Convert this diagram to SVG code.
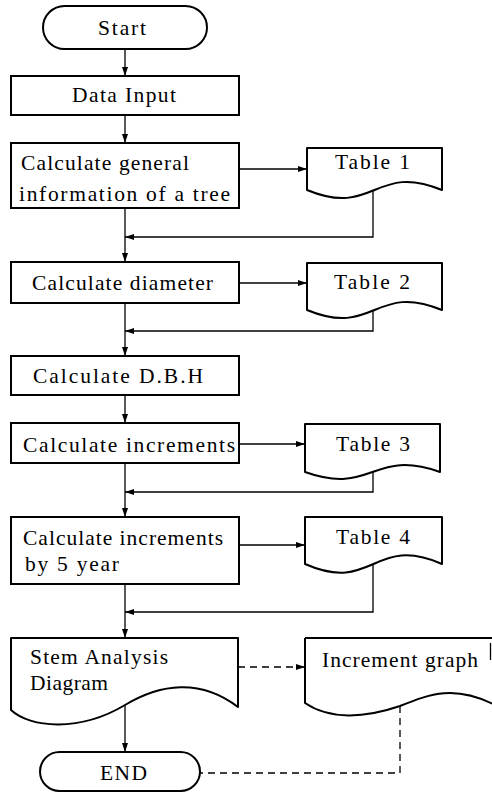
<svg xmlns="http://www.w3.org/2000/svg" width="492" height="793" viewBox="0 0 492 793">
<style>
.box{fill:#fff;stroke:#000;stroke-width:2}
.doc{fill:#fff;stroke:#000;stroke-width:2;stroke-linejoin:round}
.ln{fill:none;stroke:#000;stroke-width:1.3}
.dash{fill:none;stroke:#000;stroke-width:1.3;stroke-dasharray:7 5}
text{font-family:"Liberation Serif","Times New Roman",serif;font-size:21.5px;fill:#000}
</style>
<defs>
<marker id="ah" markerWidth="10" markerHeight="8" refX="9" refY="4" orient="auto" markerUnits="userSpaceOnUse">
<path d="M0,1 L9,4 L0,7 Z" fill="#000"/>
</marker>
</defs>
<rect width="492" height="793" fill="#fff"/>
<g id="connectors">
<line class="ln" x1="125" y1="50" x2="125" y2="76" marker-end="url(#ah)"/>
<line class="ln" x1="125" y1="115" x2="125" y2="143" marker-end="url(#ah)"/>
<line class="ln" x1="125" y1="208" x2="125" y2="262" marker-end="url(#ah)"/>
<line class="ln" x1="125" y1="303" x2="125" y2="356" marker-end="url(#ah)"/>
<line class="ln" x1="125" y1="395" x2="125" y2="423" marker-end="url(#ah)"/>
<line class="ln" x1="125" y1="463" x2="125" y2="517" marker-end="url(#ah)"/>
<line class="ln" x1="125" y1="584" x2="125" y2="638" marker-end="url(#ah)"/>
<line class="ln" x1="125" y1="705" x2="125" y2="752" marker-end="url(#ah)"/>
<line class="ln" x1="239" y1="169" x2="307" y2="169" marker-end="url(#ah)"/>
<line class="ln" x1="239" y1="283" x2="307" y2="283" marker-end="url(#ah)"/>
<line class="ln" x1="239" y1="444" x2="305" y2="444" marker-end="url(#ah)"/>
<line class="ln" x1="239" y1="545" x2="305" y2="545" marker-end="url(#ah)"/>
<line class="dash" x1="238" y1="667" x2="305" y2="667" marker-end="url(#ah)"/>
<polyline class="ln" points="373,190 373,237 125,237" marker-end="url(#ah)"/>
<polyline class="ln" points="373,310 373,331 125,331" marker-end="url(#ah)"/>
<polyline class="ln" points="373,472 373,492 125,492" marker-end="url(#ah)"/>
<polyline class="ln" points="373,564 373,612 125,612" marker-end="url(#ah)"/>
<polyline class="dash" points="400,706 400,773 200,773"/>
</g>
<g id="start">
<rect class="box" x="43" y="6" width="164" height="43" rx="21.5"/>
<text x="98" y="35" textLength="48" lengthAdjust="spacing">Start</text>
</g>
<g id="data-input">
<rect class="box" x="11" y="76" width="228" height="39"/>
<text x="72" y="102" textLength="104" lengthAdjust="spacing">Data Input</text>
</g>
<g id="calc-general">
<rect class="box" x="11" y="143" width="228" height="65"/>
<text x="21" y="170" textLength="168" lengthAdjust="spacing">Calculate general</text>
<text x="19" y="201" textLength="211" lengthAdjust="spacing">information of a tree</text>
</g>
<g id="table1">
<path class="doc" d="M307,148 H442 V190 C374.5,162 374.5,218 307,190 Z"/>
<text x="335" y="169" textLength="75" lengthAdjust="spacing">Table 1</text>
</g>
<g id="calc-diameter">
<rect class="box" x="11" y="262" width="228" height="41"/>
<text x="32" y="290" textLength="181" lengthAdjust="spacing">Calculate diameter</text>
</g>
<g id="table2">
<path class="doc" d="M307,263 H442 V310 C374.5,282 374.5,338 307,310 Z"/>
<text x="334" y="289" textLength="76" lengthAdjust="spacing">Table 2</text>
</g>
<g id="calc-dbh">
<rect class="box" x="11" y="356" width="228" height="39"/>
<text x="33" y="383" textLength="170" lengthAdjust="spacing">Calculate D.B.H</text>
</g>
<g id="calc-increments">
<rect class="box" x="11" y="423" width="228" height="40"/>
<text x="23" y="452" textLength="212" lengthAdjust="spacing">Calculate increments</text>
</g>
<g id="table3">
<path class="doc" d="M305,424 H440 V472 C372.5,448 372.5,496 305,472 Z"/>
<text x="336" y="451" textLength="74" lengthAdjust="spacing">Table 3</text>
</g>
<g id="calc-increments-5">
<rect class="box" x="11" y="517" width="228" height="67"/>
<text x="23" y="545" textLength="200" lengthAdjust="spacing">Calculate increments</text>
<text x="25" y="571" textLength="94" lengthAdjust="spacing">by 5 year</text>
</g>
<g id="table4">
<path class="doc" d="M305,517 H442 V564 C373.5,534 373.5,594 305,564 Z"/>
<text x="336" y="544" textLength="74" lengthAdjust="spacing">Table 4</text>
</g>
<g id="stem-analysis">
<path class="doc" d="M11,638 H238 V707 C200,678 160,684 125,705 C80,732 30,728 11,710 Z"/>
<text x="30" y="664" textLength="138" lengthAdjust="spacing">Stem Analysis</text>
<text x="30" y="690" textLength="78" lengthAdjust="spacing">Diagram</text>
</g>
<g id="increment-graph">
<path class="doc" d="M305,638 H497 M305,638 V703 C330,720 365,718 400,706 C430,694 455,684 497,706"/>
<line class="ln" x1="490.5" y1="643" x2="490.5" y2="660"/>
<text x="322" y="667" textLength="156" lengthAdjust="spacing">Increment graph</text>
</g>
<g id="end">
<rect class="box" x="40" y="752" width="160" height="39" rx="19.5"/>
<text x="100" y="780" textLength="47" lengthAdjust="spacing">END</text>
</g>
</svg>
